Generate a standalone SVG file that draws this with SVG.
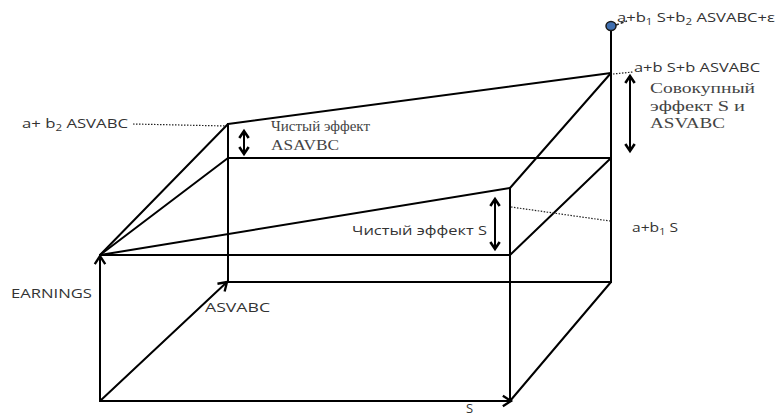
<svg xmlns="http://www.w3.org/2000/svg" width="777" height="419" viewBox="0 0 777 419">
<style>
.ln{stroke:#000;stroke-width:2;fill:none;stroke-linecap:round}
.dot{stroke:#222;stroke-width:1.2;stroke-dasharray:1.5 1.5;fill:none}
.sans{font-family:"Open Sans","Liberation Sans",sans-serif;font-size:13px;fill:#333}
.serif{font-family:"Liberation Serif","Times New Roman",serif;font-size:15px;fill:#444}
.sub{font-size:9px}
</style>
<defs>
<marker id="arr" markerUnits="userSpaceOnUse" markerWidth="14" markerHeight="14" viewBox="-8 -6 10 12" refX="0" refY="0" orient="auto">
<path d="M-7,-4.5 L0,0 L-7,4.5" fill="none" stroke="#000" stroke-width="2"/>
</marker>
<marker id="dbl" markerUnits="userSpaceOnUse" markerWidth="14" markerHeight="14" viewBox="-8 -6 10 12" refX="0" refY="0" orient="auto-start-reverse">
<path d="M-6,-4 L0,0 L-6,4" fill="none" stroke="#000" stroke-width="2.2"/>
</marker>
</defs>
<rect width="777" height="419" fill="#fff"/>
<g id="connectors">
<line class="ln" x1="100" y1="401" x2="100" y2="256" marker-end="url(#arr)"/>
<line class="ln" x1="100" y1="401" x2="511" y2="401" marker-end="url(#arr)"/>
<line class="ln" x1="100" y1="401" x2="227" y2="282" marker-end="url(#arr)"/>
<line class="ln" x1="100" y1="255" x2="510" y2="255"/>
<line class="ln" x1="510" y1="188" x2="510" y2="401"/>
<line class="ln" x1="510" y1="401" x2="611" y2="282"/>
<line class="ln" x1="228" y1="124" x2="228" y2="282"/>
<line class="ln" x1="228" y1="282" x2="611" y2="282"/>
<line class="ln" x1="611" y1="31" x2="611" y2="282"/>
<line class="ln" x1="228" y1="158" x2="611" y2="158"/>
<line class="ln" x1="100" y1="255" x2="228" y2="124"/>
<line class="ln" x1="100" y1="255" x2="228" y2="158"/>
<line class="ln" x1="100" y1="255" x2="510" y2="188"/>
<line class="ln" x1="510" y1="188" x2="611" y2="73"/>
<line class="ln" x1="510" y1="255" x2="611" y2="158"/>
<line class="ln" x1="228" y1="124" x2="611" y2="73"/>
<line class="ln" x1="244" y1="131" x2="244" y2="154" marker-start="url(#dbl)" marker-end="url(#dbl)"/>
<line class="ln" x1="495" y1="199" x2="495" y2="249" marker-start="url(#dbl)" marker-end="url(#dbl)"/>
<line class="ln" x1="630" y1="76" x2="630" y2="151" marker-start="url(#dbl)" marker-end="url(#dbl)"/>
<line class="dot" x1="133" y1="124" x2="226" y2="126"/>
<line class="dot" x1="511" y1="207" x2="610" y2="221"/>
<line class="dot" x1="613" y1="74" x2="633" y2="72"/>
<line stroke="#222" stroke-width="1.5" stroke-dasharray="3 2" x1="616" y1="25" x2="627" y2="21"/>
</g>
<g id="point-top">
<ellipse cx="611" cy="26" rx="5" ry="4.5" fill="#3f6fb0" stroke="#1a1a1a" stroke-width="1.5"/>
</g>
<g id="label-full">
<text class="sans" x="617" y="22" textLength="158" lengthAdjust="spacingAndGlyphs">a+b<tspan class="sub" dy="3">1</tspan><tspan dy="-3"> S+b</tspan><tspan class="sub" dy="3">2</tspan><tspan dy="-3"> ASVABC+ε</tspan></text>
</g>
<g id="label-sum">
<text class="sans" x="634" y="72" textLength="126" lengthAdjust="spacingAndGlyphs">a+b S+b ASVABC</text>
</g>
<g id="label-b2">
<text class="sans" x="22" y="128" textLength="106" lengthAdjust="spacingAndGlyphs">a+ b<tspan class="sub" dy="3">2</tspan><tspan dy="-3"> ASVABC</tspan></text>
</g>
<g id="label-b1">
<text class="sans" x="632" y="232" textLength="46" lengthAdjust="spacingAndGlyphs">a+b<tspan class="sub" dy="3">1</tspan><tspan dy="-3"> S</tspan></text>
</g>
<g id="label-net-asvabc">
<text class="serif" x="271" y="131" textLength="99" lengthAdjust="spacingAndGlyphs">Чистый эффект</text>
<text class="serif" x="271" y="150" textLength="68" lengthAdjust="spacingAndGlyphs">ASAVBC</text>
</g>
<g id="label-total">
<text class="serif" x="650" y="93" textLength="105" lengthAdjust="spacingAndGlyphs">Совокупный</text>
<text class="serif" x="650" y="111" textLength="95" lengthAdjust="spacingAndGlyphs">эффект S  и</text>
<text class="serif" x="650" y="128" textLength="75" lengthAdjust="spacingAndGlyphs">ASVABC</text>
</g>
<g id="label-net-s">
<text class="sans" x="352" y="235" textLength="135" lengthAdjust="spacingAndGlyphs">Чистый эффект S</text>
</g>
<g id="label-earnings">
<text class="sans" x="11" y="298" textLength="81" lengthAdjust="spacingAndGlyphs">EARNINGS</text>
</g>
<g id="label-asvabc-axis">
<text class="sans" x="205" y="312" textLength="65" lengthAdjust="spacingAndGlyphs">ASVABC</text>
</g>
<g id="label-s-axis">
<text class="sans" x="466" y="413">S</text>
</g>
</svg>
